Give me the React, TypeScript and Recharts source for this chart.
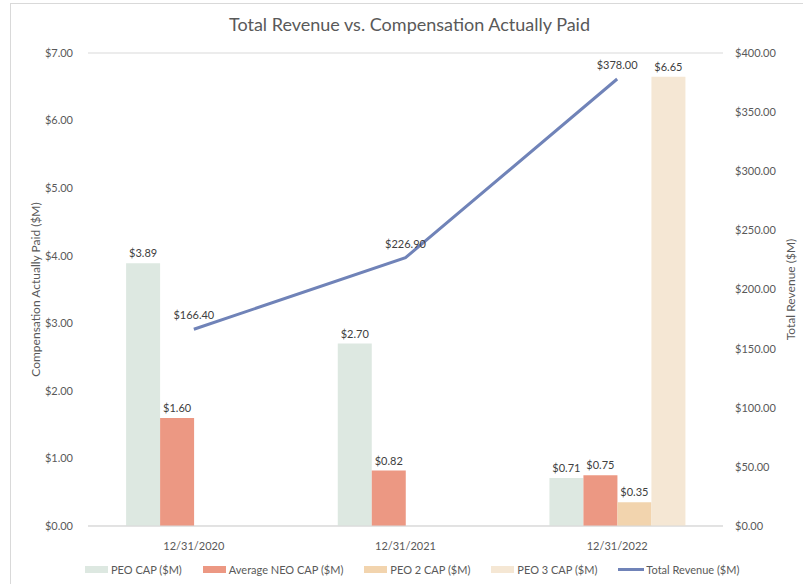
import React from 'react';
import {
  ComposedChart,
  Bar,
  Line,
  XAxis,
  YAxis,
  CartesianGrid,
  Legend,
  LabelList,
} from 'recharts';

const dates = ['12/31/2020', '12/31/2021', '12/31/2022'];
const peoCap = [3.89, 2.7, 0.71];
const neoCap = [1.6, 0.82, 0.75];
const peo2Cap = [null, null, 0.35];
const peo3Cap = [null, null, 6.65];
const totalRevenue = [166.4, 226.9, 378.0];

const leftTicks = [0, 1, 2, 3, 4, 5, 6, 7];
const rightTicks = [0, 50, 100, 150, 200, 250, 300, 350, 400];

const seriesOrder = ['peo', 'neo', 'peo2', 'peo3', 'revenue'];

const data = dates.map((d, i) => ({
  date: d,
  peo: peoCap[i],
  neo: neoCap[i],
  peo2: peo2Cap[i],
  peo3: peo3Cap[i],
  revenue: totalRevenue[i],
}));

const money = (v: any) => (v == null ? '' : `$${Number(v).toFixed(2)}`);

const AxisTitle = (props: any) => {
  const { viewBox, value, side } = props;
  const vb = viewBox || { x: 0, y: 0, width: 0, height: 0 };
  const cx = side === 'left' ? vb.x + 25 : vb.x + vb.width - 3;
  const cy = vb.y + vb.height / 2;
  return (
    <text
      x={cx}
      y={cy}
      transform={`rotate(-90 ${cx} ${cy})`}
      textAnchor="middle"
      dominantBaseline="central"
      fill="#595959"
      fontSize={12}
    >
      {value}
    </text>
  );
};

const renderLegend = (props: any) => {
  const payload = [...(props.payload || [])].sort(
    (a: any, b: any) => seriesOrder.indexOf(a.dataKey) - seriesOrder.indexOf(b.dataKey)
  );
  return (
    <div style={{ display: 'flex', alignItems: 'center', paddingLeft: 85, height: 18 }}>
      {payload.map((entry: any, i: number) => (
        <div key={i} style={{ display: 'flex', alignItems: 'center', marginRight: 21 }}>
          {entry.type === 'line' ? (
            <div style={{ width: 26, height: 3, background: entry.color, marginRight: 2 }} />
          ) : (
            <div style={{ width: 23, height: 7, background: entry.color, marginRight: 3 }} />
          )}
          <span style={{ fontSize: 11, color: '#595959' }}>{entry.value}</span>
        </div>
      ))}
    </div>
  );
};

export default function App() {
  return (
    <div
      style={{
        position: 'absolute',
        left: 0,
        top: 0,
        width: 803,
        height: 584,
        overflow: 'hidden',
        background: '#fff',
        fontFamily: 'Lato, sans-serif',
      }}
    >
      {/* chart frame, cropped on the right and bottom */}
      <div
        style={{
          position: 'absolute',
          left: 10,
          top: 3,
          width: 820,
          height: 620,
          border: '1px solid #d9d9d9',
        }}
      />
      <div
        style={{
          position: 'absolute',
          top: 13,
          left: 92,
          width: 635,
          textAlign: 'center',
          fontSize: 18,
          color: '#595959',
        }}
      >
        Total Revenue vs. Compensation Actually Paid
      </div>
      <ComposedChart
        width={803}
        height={584}
        data={data}
        margin={{ top: 53, right: 10, left: 10, bottom: 0 }}
        barCategoryGap="18%"
        barGap={0}
        style={{ fontFamily: 'Lato, sans-serif' }}
      >
        <CartesianGrid vertical={false} stroke="#d9d9d9" />
        <XAxis
          dataKey="date"
          height={24}
          tickLine={false}
          axisLine={{ stroke: '#d9d9d9' }}
          tick={{ fill: '#595959', fontSize: 11 }}
          tickMargin={10}
        />
        <YAxis
          yAxisId="left"
          width={78}
          domain={[0, 7]}
          ticks={leftTicks}
          tickFormatter={money}
          axisLine={false}
          tickLine={false}
          tickSize={0}
          tickMargin={15}
          tick={{ fill: '#595959', fontSize: 11 }}
          label={<AxisTitle side="left" value="Compensation Actually Paid ($M)" />}
        />
        <YAxis
          yAxisId="right"
          orientation="right"
          width={70}
          domain={[0, 400]}
          ticks={rightTicks}
          tickFormatter={money}
          axisLine={false}
          tickLine={false}
          tickSize={0}
          tickMargin={12}
          tick={{ fill: '#595959', fontSize: 11 }}
          label={<AxisTitle side="right" value="Total Revenue ($M)" />}
        />
        <Legend
          verticalAlign="bottom"
          height={34}
          content={renderLegend}
          wrapperStyle={{ left: 0, width: 803, top: 560 }}
        />
        <Bar yAxisId="left" dataKey="peo" name="PEO CAP ($M)" fill="#dde8e1" isAnimationActive={false}>
          <LabelList dataKey="peo" position="top" offset={6} formatter={money} fill="#404040" fontSize={11} />
        </Bar>
        <Bar yAxisId="left" dataKey="neo" name="Average NEO CAP ($M)" fill="#ec9883" isAnimationActive={false}>
          <LabelList dataKey="neo" position="top" offset={6} formatter={money} fill="#404040" fontSize={11} />
        </Bar>
        <Bar yAxisId="left" dataKey="peo2" name="PEO 2 CAP ($M)" fill="#f2d4ae" isAnimationActive={false}>
          <LabelList dataKey="peo2" position="top" offset={6} formatter={money} fill="#404040" fontSize={11} />
        </Bar>
        <Bar yAxisId="left" dataKey="peo3" name="PEO 3 CAP ($M)" fill="#f5e7d4" isAnimationActive={false}>
          <LabelList dataKey="peo3" position="top" offset={6} formatter={money} fill="#404040" fontSize={11} />
        </Bar>
        <Line
          yAxisId="right"
          dataKey="revenue"
          name="Total Revenue ($M)"
          stroke="#7083b8"
          strokeWidth={3}
          dot={false}
          legendType="line"
          isAnimationActive={false}
        >
          <LabelList dataKey="revenue" position="top" offset={10} formatter={money} fill="#404040" fontSize={11} />
        </Line>
      </ComposedChart>
    </div>
  );
}
